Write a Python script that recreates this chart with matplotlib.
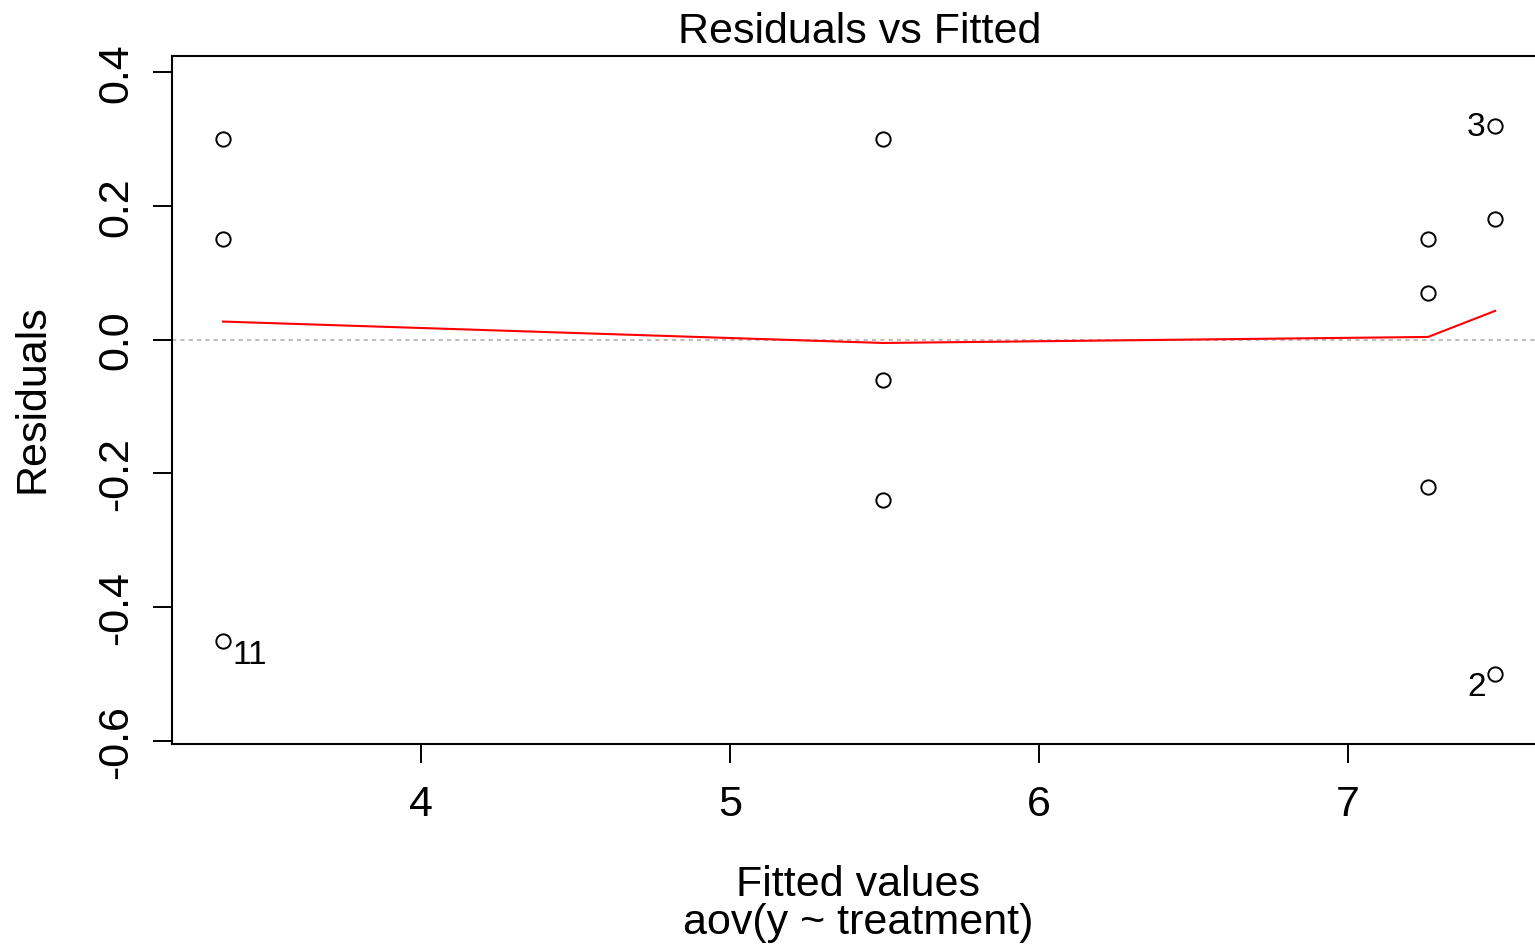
import matplotlib
matplotlib.use("Agg")
import matplotlib.pyplot as plt

plt.rcParams['font.family'] = ['Liberation Sans', 'DejaVu Sans']

# Data
fitted = [3.359, 3.359, 3.359, 5.495, 5.495, 5.495, 7.259, 7.259, 7.259, 7.476, 7.476, 7.476]
residuals = [0.30, 0.15, -0.45, 0.30, -0.06, -0.24, 0.15, 0.07, -0.22, 0.32, 0.18, -0.50]
smooth_x = [3.359, 5.495, 7.259, 7.476]
smooth_y = [0.027, -0.005, 0.004, 0.043]
labels = {"11": (3.359, -0.45), "3": (7.476, 0.32), "2": (7.476, -0.50)}
xticks = [4, 5, 6, 7]
yticks = [-0.6, -0.4, -0.2, 0.0, 0.2, 0.4]
ytick_labels = ["-0.6", "-0.4", "-0.2", "0.0", "0.2", "0.4"]

W, H = 1535, 945
fig = plt.figure(figsize=(W / 100, H / 100), dpi=100)
left, right, top, bottom = 172, 1548, 57, 745
ax = fig.add_axes([left / W, 1 - bottom / H, (right - left) / W, (bottom - top) / H])

ax.axhline(0, color='#BEBEBE', lw=1.5, linestyle=(0, (2, 2)), zorder=1)
ax.plot(fitted, residuals, linestyle='none', marker='o', ms=10.3, mfc='none',
        mec='black', mew=1.4, zorder=3)
ax.plot(smooth_x, smooth_y, color='red', lw=1.5, zorder=2)

ax.annotate("11", xy=labels["11"], xytext=(7, -10), textcoords='offset points',
            ha='left', va='center', fontsize=24)
ax.annotate("3", xy=labels["3"], xytext=(-7, -1), textcoords='offset points',
            ha='right', va='center', fontsize=24)
ax.annotate("2", xy=labels["2"], xytext=(-7, -9), textcoords='offset points',
            ha='right', va='center', fontsize=24)

ax.set_xlim(3.194, 7.647)
ax.set_ylim(-0.6045, 0.424)
ax.set_xticks(xticks)
ax.set_xticklabels([str(t) for t in xticks])
ax.set_yticks(yticks)
ax.set_yticklabels(ytick_labels, rotation=90, va='center')

for s in ['left', 'bottom', 'top']:
    ax.spines[s].set_linewidth(1.5)
ax.spines['right'].set_visible(False)
ax.tick_params(axis='both', length=13.7, width=1.4, labelsize=31)
ax.tick_params(axis='x', pad=15)
ax.tick_params(axis='y', pad=12)

fig.text(860 / W, 1 - 43 / H, "Residuals vs Fitted", ha='center', va='baseline', fontsize=31)
fig.text(858 / W, 1 - 896 / H, "Fitted values", ha='center', va='baseline', fontsize=31)
fig.text(858 / W, 1 - 934 / H, "aov(y ~ treatment)", ha='center', va='baseline', fontsize=31)
fig.text(33 / W, 1 - 399 / H, "Residuals", ha='center', va='center', rotation=90, fontsize=31)

fig.savefig("out.png", dpi=100)
